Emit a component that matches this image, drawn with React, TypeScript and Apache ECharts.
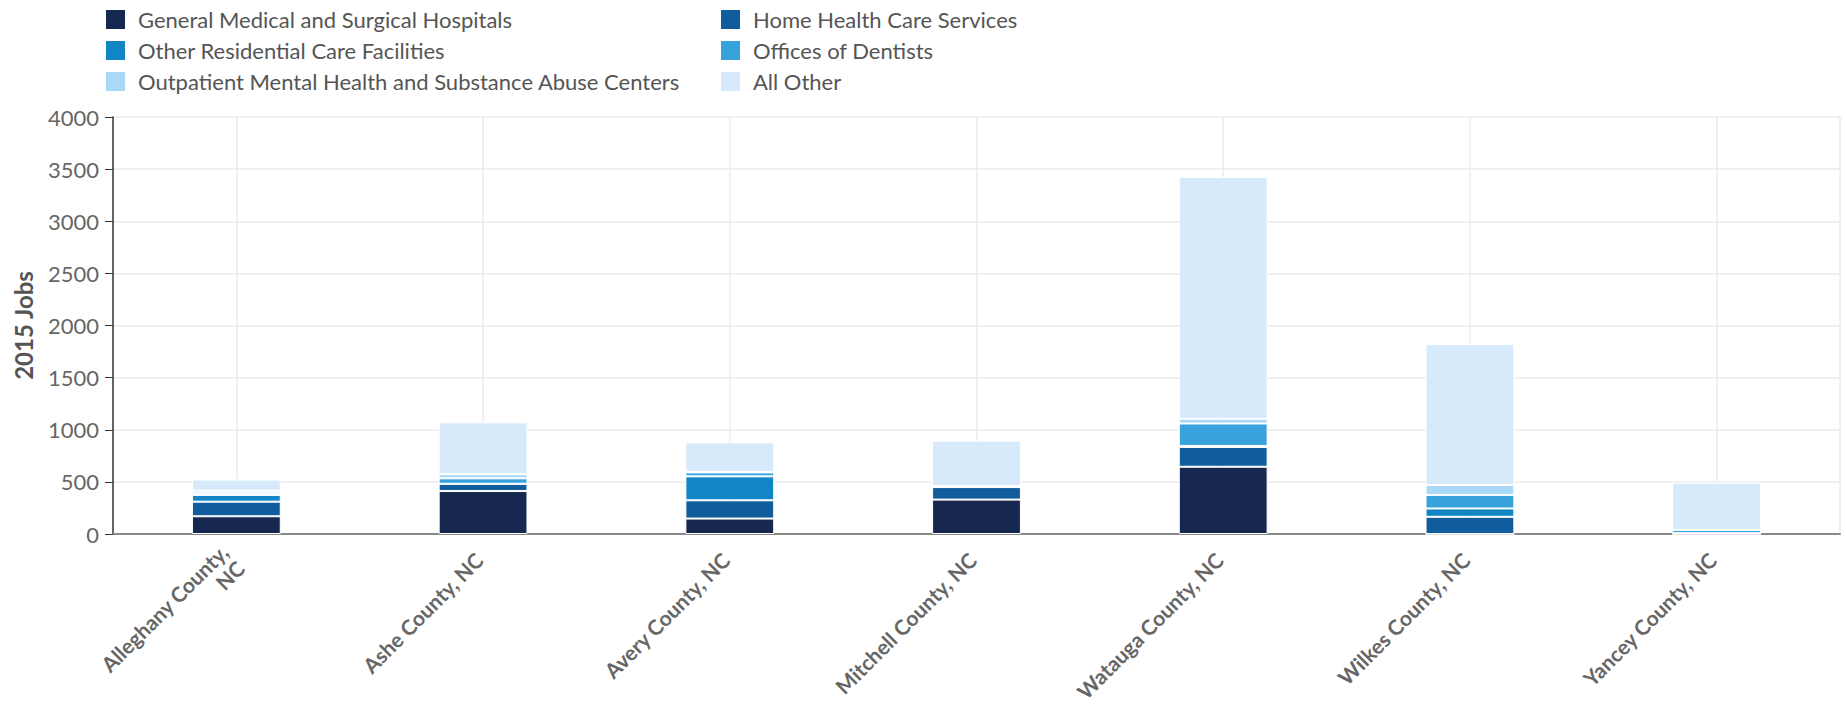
import React, { useEffect, useRef } from "react";
import * as echarts from "echarts";

const categories = [
  "Alleghany County,\nNC",
  "Ashe County, NC",
  "Avery County, NC",
  "Mitchell County, NC",
  "Watauga County, NC",
  "Wilkes County, NC",
  "Yancey County, NC",
];

const seriesNames = [
  "General Medical and Surgical Hospitals",
  "Home Health Care Services",
  "Other Residential Care Facilities",
  "Offices of Dentists",
  "Outpatient Mental Health and Substance Abuse Centers",
  "All Other",
];

const generalMedical = [170, 412, 148, 330, 645, 0, 0];
const homeHealth = [140, 70, 175, 120, 190, 165, 8];
const otherResidential = [65, 0, 230, 0, 10, 80, 0];
const officesOfDentists = [15, 52, 38, 0, 215, 130, 32];
const outpatientMental = [25, 40, 5, 10, 45, 95, 0];
const allOther = [107, 497, 283, 435, 2320, 1352, 452];

const seriesValues = [
  generalMedical,
  homeHealth,
  otherResidential,
  officesOfDentists,
  outpatientMental,
  allOther,
];

const colors = ["#162850", "#115c9c", "#1286c5", "#37a2dc", "#a9d9f7", "#d6eafc"];

const yTicks = [0, 500, 1000, 1500, 2000, 2500, 3000, 3500, 4000];

export default function App() {
  const ref = useRef<HTMLDivElement>(null);
  useEffect(() => {
    if (!ref.current) return;
    const chart = echarts.init(ref.current, undefined, { renderer: "svg" });
    const font = "Lato, 'Open Sans', sans-serif";
    const legendText = {
      fontFamily: font,
      fontSize: 22,
      lineHeight: 22,
      color: "#555",
      padding: [0, 0, 0, 7],
    };
    chart.setOption({
      animation: false,
      color: colors,
      legend: [
        {
          orient: "vertical",
          left: 99,
          top: 3,
          itemWidth: 21,
          itemHeight: 21,
          itemGap: 8,
          icon: "rect",
          textStyle: legendText,
          data: [seriesNames[0], seriesNames[2], seriesNames[4]],
        },
        {
          orient: "vertical",
          left: 714,
          top: 3,
          itemWidth: 21,
          itemHeight: 21,
          itemGap: 8,
          icon: "rect",
          textStyle: legendText,
          data: [seriesNames[1], seriesNames[3], seriesNames[5]],
        },
      ],
      grid: {
        left: 113,
        right: 6,
        top: 117,
        bottom: 174,
        containLabel: false,
        outerBoundsMode: "none",
      },
      xAxis: {
        type: "category",
        data: categories,
        axisLine: { show: true, lineStyle: { color: "#888", width: 2 } },
        axisTick: { show: false },
        splitLine: { show: true, alignWithLabel: true, lineStyle: { color: "#ebebeb", width: 1.5 } },
        axisLabel: {
          rotate: 45,
          interval: 0,
          margin: 18,
          fontFamily: font,
          fontSize: 21,
          fontWeight: "bold",
          color: "#666",
          align: "right",
          verticalAlign: "middle",
          lineHeight: 23,
          padding: [0, 6, 0, 0],
        },
      },
      yAxis: [
        {
          type: "value",
          min: 0,
          max: 4000,
          interval: 500,
          name: "2015 Jobs",
          nameLocation: "middle",
          nameGap: 78,
          nameTextStyle: { fontFamily: font, fontSize: 24, fontWeight: "bold", color: "#555" },
          axisLine: { show: true, lineStyle: { color: "#333", width: 1.5 } },
          axisTick: { show: true, length: 8, lineStyle: { color: "#333" } },
          axisLabel: {
            fontFamily: font,
            fontSize: 22,
            color: "#666",
            margin: 14,
            formatter: (v: number) => (yTicks.includes(v) ? String(v) : ""),
          },
          splitLine: { show: true, lineStyle: { color: "#ebebeb", width: 1.5 } },
        },
        {
          type: "value",
          position: "right",
          min: 0,
          max: 4000,
          interval: 500,
          axisLine: { show: true, lineStyle: { color: "#ebebeb", width: 1.5 } },
          axisTick: { show: false },
          axisLabel: { show: false },
          splitLine: { show: false },
        },
      ],
      series: seriesNames.map((name, i) => ({
        name,
        type: "bar",
        stack: "total",
        barWidth: "36%",
        data: seriesValues[i],
        itemStyle: { color: colors[i], borderColor: "#fff", borderWidth: 1 },
      })),
    });
    return () => chart.dispose();
  }, []);
  return (
    <div
      ref={ref}
      style={{ position: "absolute", left: 0, top: 0, width: 1846, height: 708 }}
    />
  );
}
